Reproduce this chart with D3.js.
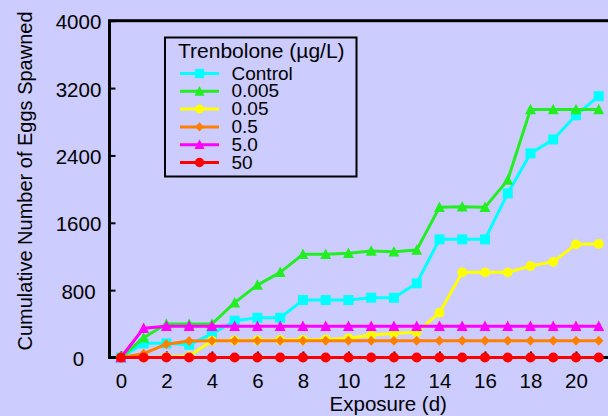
<!DOCTYPE html>
<html>
<head>
<meta charset="utf-8">
<script src="https://cdn.jsdelivr.net/npm/d3@7"></script>
<style>
    body { margin: 0; background: #ccccff; }
    text { font-family: Arial, "Liberation Sans", sans-serif; fill: #000; }
</style>
</head>
<body>
<script>
// data
const days = [0, 1, 2, 3, 4, 5, 6, 7, 8, 9, 10, 11, 12, 13, 14, 15, 16, 17, 18, 19, 20, 21];
const control = [0, 168, 168, 152, 280, 437, 472, 472, 682, 682, 682, 710, 709, 881, 1403, 1403, 1403, 1949, 2424, 2590, 2878, 3104];
const tb0005 = [0, 235, 398, 398, 398, 651, 860, 1011, 1225, 1225, 1237, 1264, 1257, 1276, 1783, 1790, 1783, 2107, 2946, 2946, 2946, 2946];
const tb005 = [0, 0, 5, 15, 200, 203, 205, 208, 210, 215, 228, 267, 287, 299, 532, 1011, 1011, 1011, 1086, 1137, 1344, 1348];
const tb05 = [0, 45, 158, 196, 200, 200, 200, 200, 200, 200, 200, 200, 200, 200, 200, 200, 200, 200, 200, 200, 200, 200];
const tb5 = [0, 346, 370, 370, 370, 370, 370, 370, 370, 370, 370, 370, 370, 370, 370, 370, 370, 370, 370, 370, 370, 370];
const tb50 = [0, 0, 0, 0, 0, 0, 0, 0, 0, 0, 0, 0, 0, 0, 0, 0, 0, 0, 0, 0, 0, 0];

const seriesNames = ["Control", "0.005", "0.05", "0.5", "5.0", "50"];
const xTicks = [0, 2, 4, 6, 8, 10, 12, 14, 16, 18, 20];
const yTicks = [0, 800, 1600, 2400, 3200, 4000];

const width = 608, height = 416;

// custom marker shapes (triangle is a bit taller than equilateral)
const triangle = {
    draw(ctx, size) {
        const s = Math.sqrt(size);
        ctx.moveTo(0, -s * 0.55);
        ctx.lineTo(s * 0.52, s * 0.45);
        ctx.lineTo(-s * 0.52, s * 0.45);
        ctx.closePath();
    }
};
const diamond = {
    draw(ctx, size) {
        const s = Math.sqrt(size) / 2;
        ctx.moveTo(0, -s);
        ctx.lineTo(s * 0.95, 0);
        ctx.lineTo(0, s);
        ctx.lineTo(-s * 0.95, 0);
        ctx.closePath();
    }
};

const series = [
    { name: seriesNames[0], values: control, color: "#00ffff", shape: d3.symbolSquare, size: 100 },
    { name: seriesNames[1], values: tb0005, color: "#22ee22", shape: triangle, size: 110 },
    { name: seriesNames[2], values: tb005, color: "#ffff00", shape: d3.symbolCircle, size: 75 },
    { name: seriesNames[3], values: tb05, color: "#ff8000", shape: diamond, size: 100 },
    { name: seriesNames[4], values: tb5, color: "#ff00ff", shape: triangle, size: 110 },
    { name: seriesNames[5], values: tb50, color: "#ff0000", shape: d3.symbolCircle, size: 80 }
];

const svg = d3.select("body").append("svg")
    .attr("width", width)
    .attr("height", height);

svg.append("rect")
    .attr("width", width)
    .attr("height", height)
    .attr("fill", "#ccccff");

const x = d3.scaleLinear()
    .domain([-0.5, 24])
    .range([109.5, 667]);

const y = d3.scaleLinear()
    .domain([0, 4000])
    .range([357.5, 20.7]);

// frame (right edge sits outside the window)
svg.append("rect")
    .attr("x", x(-0.5))
    .attr("y", y(4000))
    .attr("width", x(24) - x(-0.5))
    .attr("height", y(0) - y(4000))
    .attr("fill", "none")
    .attr("stroke", "#000")
    .attr("stroke-width", 3);

// X axis
const xAxis = svg.append("g")
    .attr("transform", "translate(0," + y(0) + ")")
    .call(d3.axisBottom(x)
        .tickValues(xTicks)
        .tickSizeInner(-6)
        .tickSizeOuter(0)
        .tickPadding(16));
xAxis.select(".domain").remove();
xAxis.selectAll("line").attr("stroke-width", 2);
xAxis.selectAll("text")
    .attr("font-size", 20.5)
    .attr("font-family", "Arial, 'Liberation Sans', sans-serif");

// Y axis
const yAxis = svg.append("g")
    .attr("transform", "translate(" + x(-0.5) + ",0)")
    .call(d3.axisLeft(y)
        .tickValues(yTicks)
        .tickFormat(d3.format("d"))
        .tickSizeInner(-6)
        .tickSizeOuter(0));
yAxis.select(".domain").remove();
yAxis.selectAll("line").attr("stroke-width", 2);
yAxis.selectAll("text")
    .attr("font-size", 20.5)
    .attr("font-family", "Arial, 'Liberation Sans', sans-serif")
    .attr("text-anchor", "middle")
    .attr("x", -31)
    .attr("dy", "0.4em");

// axis titles
svg.append("text")
    .attr("x", (x(-0.5) + x(24)) / 2)
    .attr("y", 411)
    .attr("text-anchor", "middle")
    .attr("font-size", 20.5)
    .text("Exposure (d)");

svg.append("text")
    .attr("transform", "translate(32," + 181 + ") rotate(-90)")
    .attr("text-anchor", "middle")
    .attr("font-size", 20)
    .text("Cumulative Number of Eggs Spawned");

// lines + markers
const line = d3.line()
    .x((d, i) => x(days[i]))
    .y(d => y(d));

series.forEach(s => {
    const g = svg.append("g");
    g.append("path")
        .attr("d", line(s.values))
        .attr("fill", "none")
        .attr("stroke", s.color)
        .attr("stroke-width", 3)
        .attr("stroke-linejoin", "round");
    g.selectAll("path.mark")
        .data(s.values)
        .enter().append("path")
        .attr("class", "mark")
        .attr("transform", (d, i) => "translate(" + x(days[i]) + "," + y(d) + ")")
        .attr("d", d3.symbol().type(s.shape).size(s.size))
        .attr("fill", s.color);
});

// legend
const legend = svg.append("g");
legend.append("rect")
    .attr("x", 165)
    .attr("y", 37.5)
    .attr("width", 191.5)
    .attr("height", 139)
    .attr("fill", "none")
    .attr("stroke", "#000")
    .attr("stroke-width", 2);

legend.append("text")
    .attr("x", 178)
    .attr("y", 57.5)
    .attr("font-size", 21)
    .text("Trenbolone (\u00b5g/L)");

series.forEach((s, i) => {
    const cy = 73.5 + i * 17.8;
    legend.append("line")
        .attr("x1", 180)
        .attr("x2", 219)
        .attr("y1", cy)
        .attr("y2", cy)
        .attr("stroke", s.color)
        .attr("stroke-width", 3);
    legend.append("path")
        .attr("transform", "translate(199.5," + cy + ")")
        .attr("d", d3.symbol().type(s.shape).size(s.size * 0.85))
        .attr("fill", s.color);
    legend.append("text")
        .attr("x", 231.5)
        .attr("y", cy + 6)
        .attr("font-size", 19)
        .text(s.name);
});
</script>
</body>
</html>
